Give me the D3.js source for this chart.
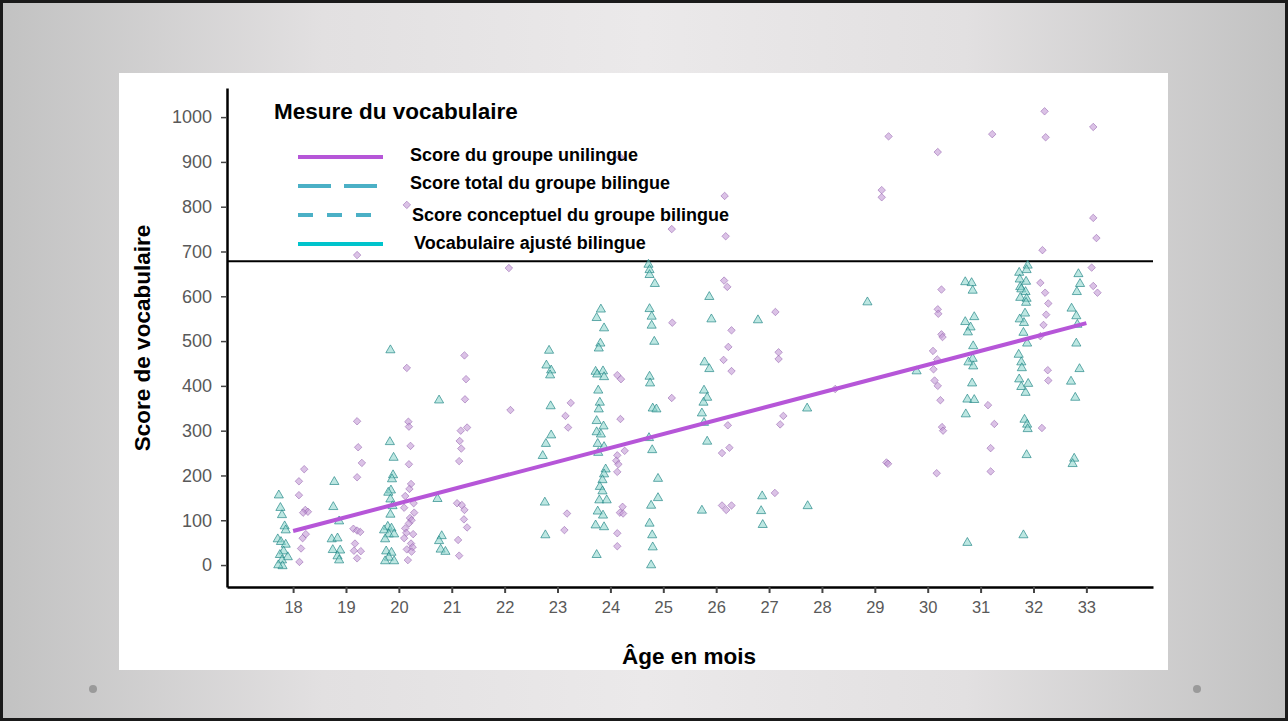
<!DOCTYPE html>
<html>
<head>
<meta charset="utf-8">
<script src="https://cdn.jsdelivr.net/npm/d3@7"></script>
<style>
  body { margin: 0; background: #fff; }
  svg { display: block; font-family: "Liberation Sans", Arial, sans-serif; }
</style>
</head>
<body>
<div id="chart"></div>
<script>
// data
var xTicks = [18, 19, 20, 21, 22, 23, 24, 25, 26, 27, 28, 29, 30, 31, 32, 33];
var yTicks = [0, 100, 200, 300, 400, 500, 600, 700, 800, 900, 1000];

// unilingual group: [age in months, score]
var uniPoints = [
  [18.21,214],[18.11,187],[18.11,156],[18.23,123],[18.28,119],[18.19,117],[18.24,69],[18.18,60],[18.15,37],[18.12,7],
  [19.21,321],[19.23,263],[19.30,228],[19.21,196],[19.14,81],[19.21,77],[19.27,74],[19.17,48],[19.15,32],[19.28,31],[19.21,15],[19.21,692],
  [20.15,440],[20.18,320],[20.19,309],[20.22,266],[20.19,225],[20.23,181],[20.20,170],[20.12,154],[20.28,138],[20.10,128],[20.29,117],
  [20.21,105],[20.24,100],[20.19,93],[20.12,82],[20.14,72],[20.27,69],[20.10,60],[20.23,48],[20.26,40],[20.15,35],[20.24,30],[20.17,11],[20.15,804],
  [21.24,468],[21.27,415],[21.25,370],[21.29,307],[21.17,300],[21.15,277],[21.18,260],[21.14,232],[21.10,138],[21.19,134],[21.24,123],
  [21.23,102],[21.29,84],[21.12,56],[21.14,21],
  [22.08,663],[22.11,346],
  [23.25,362],[23.15,333],[23.20,307],[23.18,115],[23.13,78],
  [24.13,424],[24.20,415],[24.19,326],[24.27,255],[24.13,245],[24.11,233],[24.15,225],[24.13,208],[24.23,130],[24.18,117],[24.24,115],
  [24.13,71],[24.13,42],[24.18,911],
  [25.17,541],[25.16,373],[25.16,750],
  [26.15,635],[26.21,621],[26.29,524],[26.23,487],[26.14,458],[26.29,433],[26.22,312],[26.25,262],[26.11,250],[26.11,133],[26.19,123],
  [26.29,133],[26.18,734],[26.16,824],
  [27.12,565],[27.18,475],[27.18,460],[27.27,333],[27.21,314],[27.11,161],
  [28.25,393],
  [29.22,229],[29.25,226],[29.26,957],[29.13,837],[29.13,821],
  [30.26,615],[30.19,571],[30.20,561],[30.26,515],[30.28,509],[30.10,478],[30.18,459],[30.11,437],[30.13,412],[30.19,400],[30.24,368],
  [30.27,308],[30.29,300],[30.17,205],[30.19,922],
  [31.14,357],[31.26,315],[31.19,261],[31.19,209],[31.22,962],
  [32.13,630],[32.22,608],[32.28,584],[32.24,559],[32.19,536],[32.13,511],[32.27,435],[32.28,412],[32.16,306],[32.21,1013],[32.23,955],[32.17,703],
  [33.10,664],[33.13,623],[33.21,608],[33.13,978],[33.13,775],[33.19,730]
];

// bilingual group: [age in months, score]
var biPoints = [
  [17.73,158],[17.76,130],[17.79,114],[17.84,89],[17.86,80],[17.71,60],[17.77,54],[17.86,48],[17.82,33],[17.75,25],[17.90,20],[17.79,13],[17.80,0],[17.72,2],
  [18.78,188],[18.76,132],[18.87,100],[18.73,60],[18.84,62],[18.75,36],[18.89,35],[18.84,22],[18.87,13],
  [19.84,482],[19.83,277],[19.90,242],[19.89,203],[19.87,194],[19.85,169],[19.80,164],[19.84,149],[19.88,134],[19.84,115],[19.79,88],
  [19.86,84],[19.72,80],[19.81,71],[19.91,71],[19.74,60],[19.76,33],[19.86,30],[19.81,19],[19.91,11],[19.74,11],
  [20.76,370],[20.73,150],[20.81,67],[20.76,56],[20.79,37],[20.88,32],
  [22.84,481],[22.79,448],[22.88,437],[22.86,426],[22.87,357],[22.88,292],[22.78,273],[22.72,246],[22.76,142],[22.77,69],
  [23.82,573],[23.74,554],[23.88,531],[23.81,497],[23.78,486],[23.72,434],[23.86,435],[23.75,428],[23.88,422],[23.77,392],[23.80,365],
  [23.78,350],[23.74,324],[23.87,312],[23.74,299],[23.82,294],[23.76,273],[23.88,266],[23.77,253],[23.91,216],[23.88,205],[23.85,192],
  [23.80,177],[23.85,167],[23.79,147],[23.93,147],[23.76,122],[23.86,113],[23.72,91],[23.88,87],[23.74,25],
  [24.72,673],[24.74,661],[24.74,650],[24.84,630],[24.74,574],[24.78,557],[24.78,537],[24.83,501],[24.74,423],[24.75,408],[24.80,352],
  [24.87,350],[24.73,286],[24.79,259],[24.90,195],[24.90,152],[24.77,135],[24.74,95],[24.79,69],[24.80,42],[24.77,2],
  [25.87,601],[25.91,551],[25.78,455],[25.87,440],[25.77,392],[25.83,376],[25.76,365],[25.73,341],[25.77,320],[25.83,278],[25.73,124],
  [26.79,549],[26.87,156],[26.85,123],[26.88,92],
  [27.72,352],[27.73,134],
  [28.86,589],
  [29.79,435],
  [30.71,634],[30.83,632],[30.85,615],[30.88,556],[30.71,545],[30.81,533],[30.76,522],[30.86,491],[30.85,463],[30.77,455],[30.86,446],
  [30.84,408],[30.75,372],[30.88,371],[30.72,339],[30.75,52],
  [31.89,671],[31.87,661],[31.73,655],[31.74,640],[31.86,635],[31.75,623],[31.77,618],[31.85,612],[31.75,599],[31.87,597],[31.86,588],
  [31.84,564],[31.74,551],[31.82,543],[31.81,521],[31.88,497],[31.72,472],[31.77,455],[31.78,442],[31.73,417],[31.90,407],[31.77,400],
  [31.85,387],[31.83,327],[31.88,316],[31.89,306],[31.87,248],[31.81,69],
  [32.85,652],[32.88,630],[32.82,612],[32.72,575],[32.81,558],[32.83,539],[32.81,497],[32.87,440],[32.71,412],[32.79,376],[32.77,240],[32.74,228]
];

// fitted line for the unilingual group
var trendAges = [18, 33];
var trendScores = [76, 540];

var legendTitle = "Mesure du vocabulaire";
var legendLabels = [
  "Score du groupe unilingue",
  "Score total du groupe bilingue",
  "Score conceptuel du groupe bilingue",
  "Vocabulaire ajusté bilingue"
];
var clipScore = 678;

var svgWidth = 1288;
var svgHeight = 721;

var svg = d3.select("#chart")
  .append("svg")
  .attr("width", svgWidth)
  .attr("height", svgHeight);

// slide background
var defs = svg.append("defs");
var grad = defs.append("linearGradient").attr("id", "bg").attr("x1", "0").attr("x2", "1").attr("y1", "0").attr("y2", "0");
grad.append("stop").attr("offset", "0%").attr("stop-color", "#c2c2c2");
grad.append("stop").attr("offset", "25%").attr("stop-color", "#e2e0e1");
grad.append("stop").attr("offset", "50%").attr("stop-color", "#ebe9ea");
grad.append("stop").attr("offset", "75%").attr("stop-color", "#e2e0e1");
grad.append("stop").attr("offset", "100%").attr("stop-color", "#c2c2c2");

svg.append("rect")
  .attr("x", 1.5).attr("y", 1.5)
  .attr("width", svgWidth - 3).attr("height", svgHeight - 3)
  .attr("fill", "url(#bg)")
  .attr("stroke", "#1a1a1a")
  .attr("stroke-width", 3);

svg.append("rect")
  .attr("x", 119).attr("y", 73)
  .attr("width", 1049).attr("height", 597)
  .attr("fill", "#fff");

svg.selectAll("circle.dot")
  .data([93, 1197])
  .enter()
  .append("circle")
  .attr("class", "dot")
  .attr("cx", d => d)
  .attr("cy", 689)
  .attr("r", 4)
  .attr("fill", "#9a9a9a");

// scales
var xScale = d3.scaleLinear().domain([16.75, 34.26]).range([227, 1153]);
var yScale = d3.scaleLinear().domain([-49, 1065]).range([587, 88]);

// axes
var xAxis = svg.append("g")
  .attr("transform", "translate(0,587)")
  .call(d3.axisBottom(xScale).tickValues(xTicks).tickFormat(d3.format("d")).tickSize(6).tickSizeOuter(0).tickPadding(8));
xAxis.select(".domain").attr("stroke", "#000").attr("stroke-width", 2.5);
xAxis.selectAll(".tick line").attr("stroke", "#444").attr("stroke-width", 2);
xAxis.selectAll(".tick text")
  .attr("fill", "#595959")
  .style("font-size", "16.5px");

var yAxis = svg.append("g")
  .attr("transform", "translate(227,0)")
  .call(d3.axisLeft(yScale).tickValues(yTicks).tickFormat(d3.format("d")).tickSize(6).tickSizeOuter(0).tickPadding(9));
yAxis.select(".domain").attr("stroke", "#000").attr("stroke-width", 2.5);
yAxis.selectAll(".tick line").attr("stroke", "#444").attr("stroke-width", 1.5);
yAxis.selectAll(".tick text")
  .attr("fill", "#595959")
  .style("font-size", "18px");

// horizontal black rule
svg.append("line")
  .attr("x1", xScale.range()[0]).attr("x2", xScale.range()[1])
  .attr("y1", yScale(clipScore)).attr("y2", yScale(clipScore))
  .attr("stroke", "#000")
  .attr("stroke-width", 2);

// points
var diamond = d3.symbol().type(d3.symbolSquare).size(28);
svg.append("g").selectAll("path")
  .data(uniPoints)
  .enter()
  .append("path")
  .attr("d", diamond)
  .attr("transform", d => `translate(${xScale(d[0])},${yScale(d[1])}) rotate(45)`)
  .attr("fill", "#c39ad6")
  .attr("fill-opacity", 0.6)
  .attr("stroke", "#8e5aa8")
  .attr("stroke-opacity", 0.55)
  .attr("stroke-width", 0.9);

var triangle = d3.symbol().type(d3.symbolTriangle).size(36);
svg.append("g").selectAll("path")
  .data(biPoints)
  .enter()
  .append("path")
  .attr("d", triangle)
  .attr("transform", d => `translate(${xScale(d[0])},${yScale(d[1]) + 1})`)
  .attr("fill", "#86d3cb")
  .attr("fill-opacity", 0.55)
  .attr("stroke", "#1f8585")
  .attr("stroke-opacity", 0.75)
  .attr("stroke-width", 0.9);

// trend line
svg.append("line")
  .attr("x1", xScale(trendAges[0])).attr("y1", yScale(trendScores[0]))
  .attr("x2", xScale(trendAges[1])).attr("y2", yScale(trendScores[1]))
  .attr("stroke", "#b656d8")
  .attr("stroke-width", 4);

// legend
svg.append("text")
  .attr("x", 274).attr("y", 119)
  .style("font-size", "22.5px")
  .style("font-weight", "bold")
  .attr("fill", "#000")
  .text(legendTitle);

var legendStyles = [
  { color: "#b656d8", dash: null, x2: 383, tx: 410 },
  { color: "#4bb0c6", dash: "33,13", x2: 378, tx: 410 },
  { color: "#4bb0c6", dash: "15,14", x2: 374, tx: 412 },
  { color: "#00c4cc", dash: null, x2: 383, tx: 414 }
];
var legendY = [157, 186, 215, 244];
var legendTextY = [161, 189, 221, 249];

legendLabels.forEach(function(label, i) {
  var st = legendStyles[i];
  svg.append("line")
    .attr("x1", 298).attr("x2", st.x2)
    .attr("y1", legendY[i]).attr("y2", legendY[i])
    .attr("stroke", st.color)
    .attr("stroke-width", 4)
    .attr("stroke-dasharray", st.dash);
  svg.append("text")
    .attr("x", st.tx).attr("y", legendTextY[i])
    .style("font-size", "18px")
    .style("font-weight", "bold")
    .attr("fill", "#000")
    .text(label);
});

// axis titles
svg.append("text")
  .attr("transform", "translate(150,338) rotate(-90)")
  .attr("text-anchor", "middle")
  .style("font-size", "22.5px")
  .style("font-weight", "bold")
  .text("Score de vocabulaire");

svg.append("text")
  .attr("x", 689).attr("y", 664)
  .attr("text-anchor", "middle")
  .style("font-size", "22.5px")
  .style("font-weight", "bold")
  .text("Âge en mois");
</script>
</body>
</html>
